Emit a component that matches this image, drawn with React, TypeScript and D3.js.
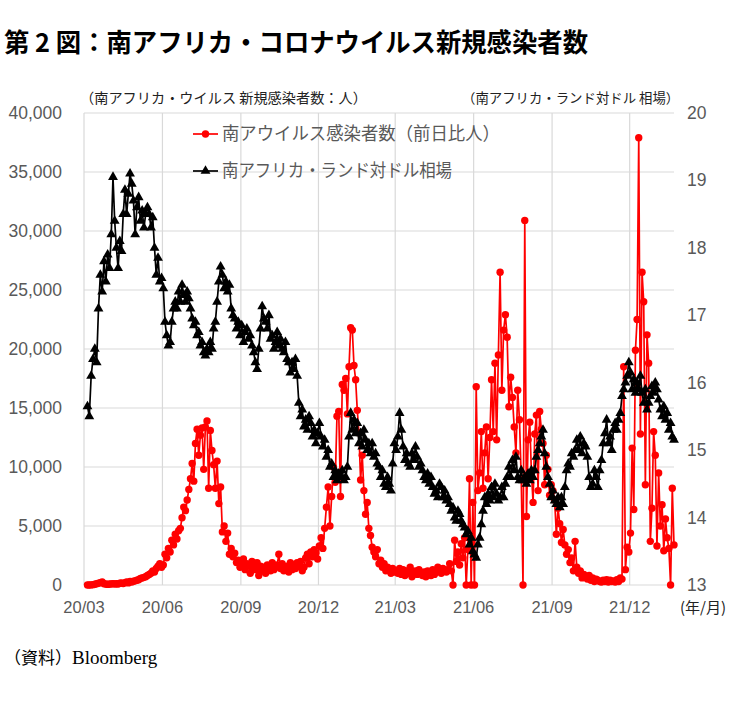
import { useEffect, useRef } from 'react';
import * as d3 from 'd3';

const title = '第 2 図：南アフリカ・コロナウイルス新規感染者数';
const leftAxisTitle = '（南アフリカ・ウイルス 新規感染者数：人）';
const rightAxisTitle = '（南アフリカ・ランド対ドル 相場）';
const caseLabel = '南アウイルス感染者数（前日比人）';
const randLabel = '南アフリカ・ランド対ドル相場';
const sourceLabel = '（資料）';
const sourceName = 'Bloomberg';

// one row per month, values read every other day
const months = [
  '2020-03', '2020-04', '2020-05', '2020-06', '2020-07', '2020-08', '2020-09', '2020-10',
  '2020-11', '2020-12', '2021-01', '2021-02', '2021-03', '2021-04', '2021-05', '2021-06',
  '2021-07', '2021-08', '2021-09', '2021-10', '2021-11', '2021-12', '2022-01',
];

// new cases (people, day on day)
const cases = [
  [0, 5, 10, 30, 60, 100, 150, 200, 250, 100, 80, 50, 80],
  [90, 120, 80, 100, 90, 150, 180, 120, 200, 250, 180, 300, 250, 320, 350],
  [400, 450, 550, 600, 650, 700, 800, 900, 1000, 1200, 1100, 1400, 1600, 1800, 1500],
  [1700, 2600, 2300, 3100, 2800, 3800, 3400, 4300, 3900, 4600, 4800, 5700, 6600, 6300, 7200],
  [8100, 9000, 10300, 8800, 12000, 13200, 11000, 12700, 13300, 9800, 13400, 13900, 8200, 13100, 11400, 10200],
  [8200, 10500, 6900, 8300, 4500, 5000, 3700, 4400, 2600, 3100, 2400, 2700, 1900, 2100, 1500],
  [1700, 2200, 1300, 1800, 1600, 1000, 2000, 1500, 1300, 1900, 800, 1600, 1200, 1500, 1000],
  [1700, 1400, 1200, 1900, 1300, 1500, 1700, 2600, 1400, 1800, 1200, 1500, 1600, 1100, 1900, 1300],
  [1700, 1400, 1900, 1600, 2000, 1200, 1500, 2300, 2600, 1800, 2800, 2400, 3000, 2700, 2200],
  [3300, 4000, 3100, 4800, 6600, 8300, 5000, 7500, 10000, 8700, 14300, 14700, 7500, 17000, 16500],
  [17500, 14500, 18500, 21800, 21600, 18600, 17400, 14800, 12900, 8900, 11000, 8000, 6000, 7000, 4800, 4200],
  [3200, 2800, 2400, 3000, 1800, 2100, 1500, 1800, 1200, 1500, 1300, 1000, 1400, 1100],
  [1200, 1000, 1400, 900, 1300, 800, 1200, 1000, 1500, 700, 1100, 1200, 900, 1300, 1000],
  [800, 1100, 700, 1200, 1000, 800, 1300, 900, 1100, 1500, 1200, 1000, 1400, 1300, 1100],
  [1300, 1800, 1200, 0, 3800, 2000, 2800, 1700, 3500, 2300, 4000, 0, 3000, 9000, 0, 7000],
  [0, 16800, 8000, 9500, 13000, 8200, 11200, 13400, 9000, 12500, 17400, 13000, 18800, 12300, 19500],
  [26500, 16500, 21600, 22900, 21000, 15100, 17600, 15900, 13400, 11200, 16500, 14000, 9000, 0, 30900],
  [5800, 12300, 13800, 9500, 7000, 12800, 14400, 8000, 14700, 13200, 12000, 8500, 11000, 9800, 7600, 8500],
  [8000, 7200, 4300, 6500, 5200, 3600, 4700, 3400, 2600, 3000, 1900, 2300, 1200, 3700, 1500],
  [1000, 1200, 600, 900, 700, 500, 800, 400, 600, 300, 500, 400, 300, 250, 400],
  [300, 450, 250, 400, 300, 350, 250, 450, 300, 600, 500, 18500, 1300, 3200, 2800],
  [4400, 11600, 6400, 19900, 22500, 37900, 12800, 26500, 24000, 8500, 21200, 18800, 3700, 6500, 13000, 11000],
  [3300, 9500, 5000, 6800, 2900, 5600, 4000, 3100, 0, 8200, 3400],
];

// USD/ZAR
const rand = [
  [15.65, 15.5, 16.1, 16.35, 16.5, 16.3, 17.1, 17.6, 17.35, 17.8, 17.5, 17.9, 17.7],
  [18.2, 19.05, 18.4, 18.0, 17.7, 18.1, 17.95, 18.5, 18.86, 18.5, 18.8, 19.1, 18.95, 18.7, 18.2],
  [18.6, 18.75, 18.4, 18.55, 18.3, 18.5, 18.6, 18.5, 18.3, 18.45, 18.0, 17.6, 17.85, 17.5, 17.55],
  [17.4, 16.9, 16.7, 16.55, 16.6, 16.9, 17.1, 17.2, 17.1, 17.35, 17.2, 17.45, 17.3, 17.2, 17.35],
  [17.25, 17.1, 16.95, 16.85, 16.9, 16.7, 16.75, 16.55, 16.6, 16.45, 16.4, 16.5, 16.45, 16.6, 16.5, 16.8],
  [16.9, 17.2, 17.5, 17.72, 17.6, 17.4, 17.5, 17.35, 17.45, 17.1, 17.0, 16.95, 16.8, 16.9, 16.7],
  [16.85, 16.6, 16.75, 16.8, 16.65, 16.7, 16.55, 16.45, 16.3, 16.2, 16.5, 16.8, 17.13, 16.95, 16.9],
  [16.8, 17.0, 16.65, 16.7, 16.5, 16.6, 16.75, 16.55, 16.65, 16.5, 16.45, 16.6, 16.35, 16.3, 16.15, 16.3],
  [16.2, 16.35, 16.1, 15.7, 15.5, 15.6, 15.35, 15.45, 15.3, 15.5, 15.4, 15.2, 15.3, 15.1, 15.25],
  [15.4, 15.2, 15.05, 15.15, 14.9, 15.0, 14.75, 14.8, 14.6, 14.7, 14.55, 14.65, 14.6, 14.7, 14.55],
  [14.6, 14.75, 15.2, 15.55, 15.3, 15.45, 15.25, 15.4, 15.1, 15.25, 15.05, 15.3, 15.15, 15.0, 15.1, 14.95],
  [15.1, 14.9, 14.95, 14.8, 14.75, 14.6, 14.7, 14.5, 14.45, 14.6, 14.5, 14.4, 14.8, 15.1],
  [15.0, 15.2, 15.55, 15.3, 15.05, 14.85, 14.95, 14.8, 14.75, 14.95, 14.85, 15.05, 14.9, 14.75, 14.8],
  [14.7, 14.6, 14.55, 14.65, 14.5, 14.6, 14.45, 14.35, 14.4, 14.3, 14.5, 14.45, 14.3, 14.4, 14.25],
  [14.3, 14.2, 14.1, 14.15, 14.0, 13.95, 14.1, 14.05, 13.95, 13.9, 13.85, 13.75, 13.8, 13.6, 13.7, 13.5],
  [13.45, 13.4, 13.6, 13.7, 13.9, 14.1, 14.3, 14.2, 14.35, 14.25, 14.45, 14.3, 14.5, 14.35, 14.25],
  [14.3, 14.45, 14.3, 14.5, 14.6, 14.75, 14.6, 14.85, 14.7, 14.9, 14.6, 14.55, 14.7, 14.55, 14.6],
  [14.5, 14.65, 14.55, 14.7, 14.6, 14.7, 14.9, 15.0, 15.1, 15.2, 15.3, 14.95, 14.75, 14.6, 14.5, 14.3],
  [14.4, 14.25, 14.2, 14.3, 14.15, 14.3, 14.2, 14.45, 14.7, 14.8, 14.75, 14.95, 14.9, 15.0, 15.15],
  [15.0, 15.2, 14.95, 15.1, 15.05, 14.9, 14.6, 14.45, 14.5, 14.7, 14.6, 14.45, 14.7, 14.85, 15.1],
  [15.25, 15.45, 15.1, 15.2, 15.0, 15.3, 15.4, 15.3, 15.45, 15.55, 15.8, 15.9, 16.0, 16.1, 16.3],
  [16.15, 15.9, 16.05, 15.85, 16.0, 15.9, 16.1, 15.85, 15.7, 15.9, 15.6, 15.7, 15.8, 15.95, 15.85, 16.0],
  [15.9, 15.75, 15.6, 15.5, 15.65, 15.45, 15.55, 15.3, 15.4, 15.2, 15.15],
];

const caseTicks = [0, 5000, 10000, 15000, 20000, 25000, 30000, 35000, 40000];
const randTicks = [13, 14, 15, 16, 17, 18, 19, 20];
const xTickLabels = ['20/03', '20/06', '20/09', '20/12', '21/03', '21/06', '21/09', '21/12'];
const xUnitLabel = '(年/月)';

const firstDay = new Date(2020, 2, 4);
const lastDay = new Date(2022, 0, 23);

type Pt = { date: Date; value: number };

// lay each month's readings out across that month
function spread(rows: number[][]): Pt[] {
  const out: Pt[] = [];
  rows.forEach((vals, i) => {
    const [y, m] = months[i].split('-').map(Number);
    const start = i === 0 ? firstDay : new Date(y, m - 1, 1);
    const end = i === rows.length - 1 ? lastDay : new Date(y, m, 1);
    const step = (end.getTime() - start.getTime()) / vals.length;
    vals.forEach((v, k) => out.push({ date: new Date(start.getTime() + step * (k + 0.5)), value: v }));
  });
  return out;
}

const JP = "'Noto Sans CJK JP', sans-serif";
const NUM = "'Liberation Sans', Arial, sans-serif";

export default function App() {
  const ref = useRef<SVGSVGElement>(null);

  useEffect(() => {
    if (!ref.current) return;
    const svg = d3.select(ref.current);
    svg.selectAll('*').remove();

    const W = 746;
    const H = 723;
    const left = 84, right = 674, top = 113, bottom = 585;

    svg.append('rect').attr('width', W).attr('height', H).attr('fill', '#fff');

    const x = d3.scaleTime()
      .domain([new Date(2020, 2, 1), new Date(2022, 0, 22)])
      .range([left, right]);
    const yL = d3.scaleLinear().domain([0, 40000]).range([bottom, top]);
    const yR = d3.scaleLinear().domain([13, 20]).range([bottom, top]);

    const xTicks = xTickLabels.map(l => {
      const [yy, mm] = l.split('/').map(Number);
      return { label: l, date: new Date(2000 + yy, mm - 1, 1) };
    });

    // grid
    const grid = svg.append('g').attr('stroke', '#d9d9d9').attr('stroke-width', 1.2);
    caseTicks.forEach(t => {
      grid.append('line')
        .attr('x1', left).attr('x2', right)
        .attr('y1', yL(t)).attr('y2', yL(t));
    });
    xTicks.forEach(t => {
      grid.append('line')
        .attr('x1', x(t.date)).attr('x2', x(t.date))
        .attr('y1', top).attr('y2', bottom);
    });

    // tick labels
    svg.append('g').selectAll('text')
      .data(caseTicks)
      .enter()
      .append('text')
      .attr('x', 62)
      .attr('y', d => yL(d) + 6)
      .attr('text-anchor', 'end')
      .attr('font-family', NUM)
      .attr('font-size', 17.5)
      .attr('fill', '#595959')
      .text(d => d3.format(',')(d));

    svg.append('g').selectAll('text')
      .data(randTicks)
      .enter()
      .append('text')
      .attr('x', 687)
      .attr('y', d => yR(d) + 6)
      .attr('font-family', NUM)
      .attr('font-size', 17.5)
      .attr('fill', '#595959')
      .text(d => d);

    svg.append('g').selectAll('text')
      .data(xTicks)
      .enter()
      .append('text')
      .attr('x', d => x(d.date))
      .attr('y', 613)
      .attr('text-anchor', 'middle')
      .attr('font-family', NUM)
      .attr('font-size', 16.5)
      .attr('fill', '#595959')
      .text(d => d.label);

    svg.append('text')
      .attr('x', 680).attr('y', 613)
      .attr('font-family', JP)
      .attr('font-size', 15)
      .attr('fill', '#222')
      .text(xUnitLabel);

    // series
    const casePts = spread(cases);
    const randPts = spread(rand);

    svg.append('path')
      .datum(casePts)
      .attr('fill', 'none')
      .attr('stroke', '#ff0000')
      .attr('stroke-width', 1.7)
      .attr('d', d3.line<Pt>().x(d => x(d.date)).y(d => yL(d.value)));

    svg.append('g').selectAll('circle')
      .data(casePts)
      .enter()
      .append('circle')
      .attr('cx', d => x(d.date))
      .attr('cy', d => yL(d.value))
      .attr('r', 3.7)
      .attr('fill', '#ff0000');

    svg.append('path')
      .datum(randPts)
      .attr('fill', 'none')
      .attr('stroke', '#000')
      .attr('stroke-width', 1.7)
      .attr('d', d3.line<Pt>().x(d => x(d.date)).y(d => yR(d.value)));

    const tri = d3.symbol().type(d3.symbolTriangle).size(42);
    svg.append('g').selectAll('path')
      .data(randPts)
      .enter()
      .append('path')
      .attr('transform', d => `translate(${x(d.date)},${yR(d.value)})`)
      .attr('d', tri() as string)
      .attr('fill', '#000');

    // legend
    const lg = svg.append('g');
    lg.append('line').attr('x1', 193).attr('x2', 218).attr('y1', 134).attr('y2', 134)
      .attr('stroke', '#ff0000').attr('stroke-width', 1.7);
    lg.append('circle').attr('cx', 205.5).attr('cy', 134).attr('r', 3.7).attr('fill', '#ff0000');
    lg.append('text').attr('x', 222).attr('y', 140)
      .attr('font-family', JP).attr('font-size', 18).attr('fill', '#595959')
      .attr('textLength', 278).attr('lengthAdjust', 'spacingAndGlyphs')
      .text(caseLabel);

    lg.append('line').attr('x1', 193).attr('x2', 218).attr('y1', 171).attr('y2', 171)
      .attr('stroke', '#000').attr('stroke-width', 1.7);
    lg.append('path').attr('transform', 'translate(205.5,171)').attr('d', tri() as string).attr('fill', '#000');
    lg.append('text').attr('x', 222).attr('y', 177)
      .attr('font-family', JP).attr('font-size', 18).attr('fill', '#595959')
      .attr('textLength', 230).attr('lengthAdjust', 'spacingAndGlyphs')
      .text(randLabel);

    // axis titles
    svg.append('text').attr('x', 80).attr('y', 103)
      .attr('font-family', JP).attr('font-size', 14.2).attr('fill', '#222')
      .text(leftAxisTitle);
    svg.append('text').attr('x', 462).attr('y', 103)
      .attr('font-family', JP).attr('font-size', 13.4).attr('fill', '#222')
      .text(rightAxisTitle);

    // title
    svg.append('text').attr('x', 4).attr('y', 52)
      .attr('font-family', JP).attr('font-size', 26).attr('font-weight', 'bold').attr('fill', '#000')
      .attr('textLength', 584).attr('lengthAdjust', 'spacingAndGlyphs')
      .text(title);

    // source
    const src = svg.append('text').attr('x', 4).attr('y', 664).attr('font-size', 19).attr('fill', '#000');
    src.append('tspan').attr('font-family', JP).attr('font-size', 17).text(sourceLabel);
    src.append('tspan').attr('font-family', "'Liberation Serif', 'Times New Roman', serif").text(sourceName);
  }, []);

  return (
    <svg
      ref={ref}
      width={746}
      height={723}
      style={{ position: 'absolute', left: 0, top: 0, display: 'block' }}
    />
  );
}
